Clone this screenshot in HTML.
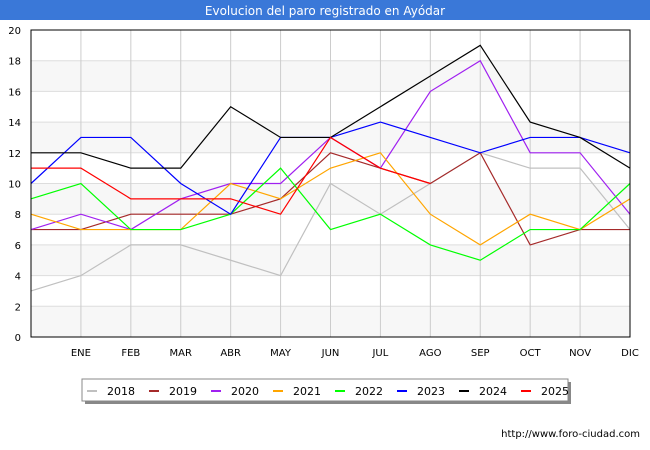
<!DOCTYPE html>
<html><head><meta charset="utf-8"><style>
body{margin:0;width:650px;height:450px;background:#fff;font-family:"DejaVu Sans","Liberation Sans",sans-serif;overflow:hidden}
svg{display:block}
</style></head><body>
<svg id="chart" width="650" height="450">
<rect x="0" y="0" width="650" height="20" fill="#3a78d8"/>
<text x="325" y="15" text-anchor="middle" font-size="12" fill="#fff">Evolucion del paro registrado en Ayódar</text>
<g id="grid"></g><g id="series"></g>
<rect x="31" y="30" width="599" height="307" fill="none" stroke="#000"/>
<rect x="85" y="382" width="486" height="22" fill="#888"/>
<rect x="82" y="379" width="486" height="22" fill="#fff" stroke="#888"/>
<g id="legend"></g>
<text x="640" y="437" text-anchor="end" font-size="10" fill="#000">http://www.foro-ciudad.com</text>
</svg>
<script>
const categories=["","ENE","FEB","MAR","ABR","MAY","JUN","JUL","AGO","SEP","OCT","NOV","DIC"];
const yTicks=[0,2,4,6,8,10,12,14,16,18,20];
const years=["2018","2019","2020","2021","2022","2023","2024","2025"];
const colors=["#c0c0c0","#a52a2a","#a020f0","#ffa500","#00ff00","#0000ff","#000000","#ff0000"];
const s2018=[3,4,6,6,5,4,10,8,10,12,11,11,7];
const s2019=[7,7,8,8,8,9,12,11,10,12,6,7,7];
const s2020=[7,8,7,9,10,10,13,11,16,18,12,12,8];
const s2021=[8,7,7,7,10,9,11,12,8,6,8,7,9];
const s2022=[9,10,7,7,8,11,7,8,6,5,7,7,10];
const s2023=[10,13,13,10,8,13,13,14,13,12,13,13,12];
const s2024=[12,12,11,11,15,13,13,15,17,19,14,13,11];
const s2025=[11,11,9,9,9,8,13,11,10];
const allSeries=[s2018,s2019,s2020,s2021,s2022,s2023,s2024,s2025];
const NS="http://www.w3.org/2000/svg";
const X0=31,X1=630,Y0=337,Y1=30;
function xs(i){return X0+i*(X1-X0)/(categories.length-1);}
function ys(v){return Y0-v*(Y0-Y1)/20;}
function mk(t,a){const e=document.createElementNS(NS,t);for(const k in a)e.setAttribute(k,a[k]);return e;}
const g=document.getElementById('grid');
for(let i=0;i<yTicks.length-1;i++){
 if(i%2==0){const r=mk('rect',{x:X0,y:ys(yTicks[i+1]),width:X1-X0,height:ys(yTicks[i])-ys(yTicks[i+1]),fill:'#f7f7f7'});
 
 g.appendChild(r);}
}
yTicks.forEach(v=>{
 const l=mk('line',{x1:X0,x2:X1,y1:ys(v),y2:ys(v),stroke:'#ddd'});
 
 g.appendChild(l);
 const t=mk('text',{x:X0-10,y:ys(v)+4,'text-anchor':'end','font-size':'10'});t.textContent=v;
 
 g.appendChild(t);
});
categories.forEach((c,i)=>{
 const l=mk('line',{x1:xs(i),x2:xs(i),y1:Y1,y2:Y0,stroke:'#ccc'});
 
 g.appendChild(l);
 if(c){const t=mk('text',{x:xs(i),y:356,'text-anchor':'middle','font-size':'10'});t.textContent=c;
 
 g.appendChild(t);}
});
const sg=document.getElementById('series');
allSeries.forEach((s,k)=>{
 const p=mk('polyline',{points:s.map((v,i)=>xs(i)+','+ys(v)).join(' '),fill:'none',stroke:colors[k],'stroke-width':'1.2'});
 
 sg.appendChild(p);
});
const lg=document.getElementById('legend');
years.forEach((y,k)=>{
 const x=87+k*62;
 const l=mk('line',{x1:x,x2:x+10,y1:391,y2:391,stroke:colors[k],'stroke-width':'2'});
 
 lg.appendChild(l);
 const t=mk('text',{x:x+20,y:395,'font-size':'11'});t.textContent=y;
 
 lg.appendChild(t);
});
</script>
</body></html>
